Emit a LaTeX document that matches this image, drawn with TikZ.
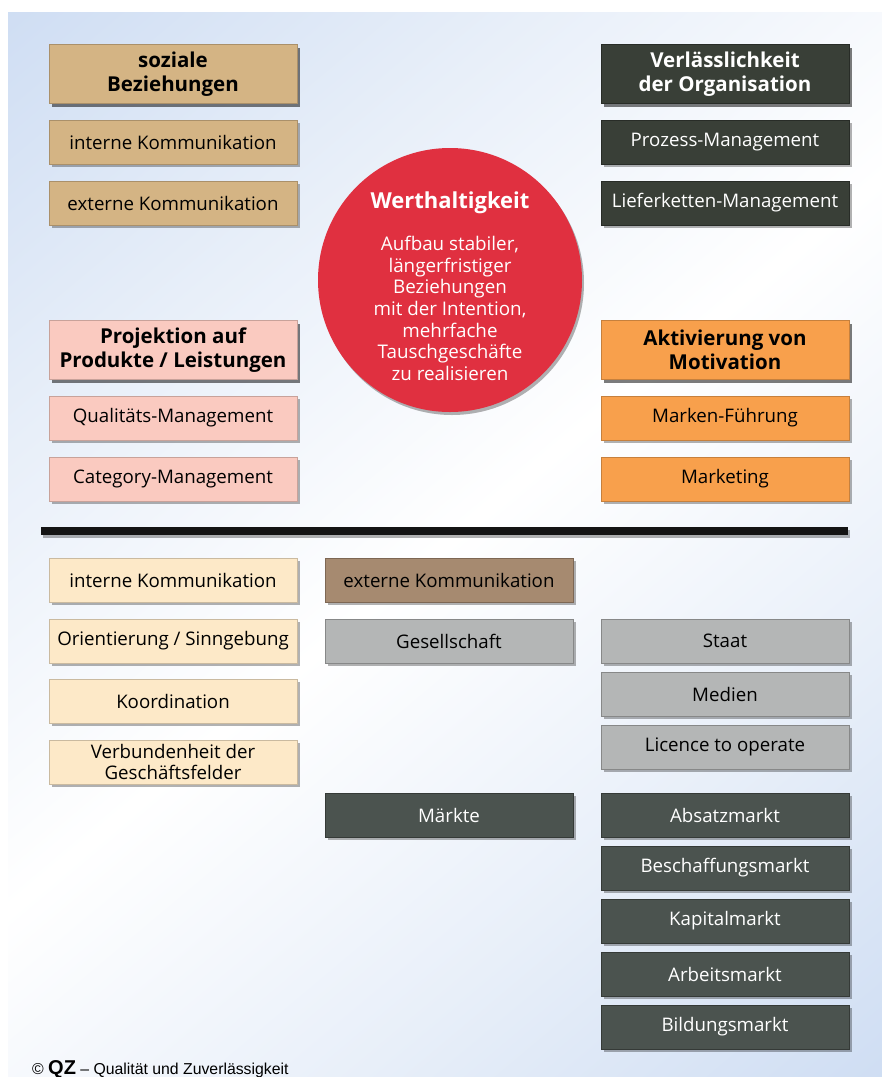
\documentclass[tikz,border=0pt]{standalone}
\usepackage{fontspec}
\setmainfont{Open Sans}
\newfontfamily\footfont{Liberation Sans}
\usetikzlibrary{positioning, shadows}

\definecolor{bgblue}{RGB}{186,207,238}
\definecolor{bgpale}{RGB}{232,239,249}
\definecolor{tanbg}{RGB}{212,180,132}
\definecolor{darkbg}{RGB}{57,63,55}
\definecolor{slatebg}{RGB}{75,83,79}
\definecolor{pinkbg}{RGB}{250,202,192}
\definecolor{orangebg}{RGB}{248,160,76}
\definecolor{creambg}{RGB}{253,233,200}
\definecolor{brownbg}{RGB}{166,138,112}
\definecolor{greybg}{RGB}{180,182,182}
\definecolor{redbg}{RGB}{224,48,64}

\pgfdeclareverticalshading{panelshade}{100bp}{color(0bp)=(bgblue); color(32bp)=(bgpale); color(50bp)=(white); color(68bp)=(bgpale); color(100bp)=(bgblue)}

\tikzset{
    box/.style={rectangle, minimum width=248pt, minimum height=44pt, inner sep=0pt,
        align=center, font=\fontsize{18.7}{21}\selectfont,
        drop shadow={shadow xshift=2.5pt, shadow yshift=-3pt, opacity=0.3, fill=black}},
    head/.style={box, minimum height=59pt, font=\fontsize{20.5}{24}\selectfont\bfseries},
    tanbox/.style={fill=tanbg, draw=tanbg!80!black, line width=0.6pt},
    darkbox/.style={fill=darkbg, draw=darkbg!70!black, line width=0.6pt, text=white},
    slatebox/.style={fill=slatebg, draw=slatebg!70!black, line width=0.6pt, text=white},
    pinkbox/.style={fill=pinkbg, draw=pinkbg!80!black, line width=0.6pt},
    orangebox/.style={fill=orangebg, draw=orangebg!80!black, line width=0.6pt},
    creambox/.style={fill=creambg, draw=creambg!80!black, line width=0.6pt},
    brownbox/.style={fill=brownbg, draw=brownbg!75!black, line width=0.6pt},
    greybox/.style={fill=greybg, draw=greybg!75!black, line width=0.6pt}
}

\begin{document}
\begin{tikzpicture}[x=1pt, y=1pt]
        \useasboundingbox (0,0) rectangle (882,-1077);
        \fill[white] (0,0) rectangle (882,-1077);
        \shade[shading=panelshade, shading angle=40] (8,-12) rectangle (882,-1077);

        \node[box, head, tanbox] (sozial) at (173,-74) {soziale\\Beziehungen};
        \node[box, tanbox] (intkomm) at (173,-142) {interne Kommunikation};
        \node[box, tanbox] (extkomm) at (173,-203) {externe Kommunikation};

        \node[box, head, darkbox] (verlass) at (725,-74) {Verlässlichkeit\\der Organisation};
        \node[box, darkbox] (prozess) at (725,-142) {Prozess-Management};
        \node[box, darkbox] (liefer) at (725,-203) {Lieferketten-Management};

        \node[box, head, pinkbox] (projektion) at (173,-350) {Projektion auf\\Produkte / Leistungen};
        \node[box, pinkbox] (quali) at (173,-418) {Qualitäts-Management};
        \node[box, pinkbox] (category) at (173,-479) {Category-Management};

        \node[box, head, orangebox] (aktiv) at (725,-350) {Aktivierung von\\Motivation};
        \node[box, orangebox] (marken) at (725,-418) {Marken-Führung};
        \node[box, orangebox] (marketing) at (725,-479) {Marketing};

        \node[circle, fill=redbg, minimum size=264pt, inner sep=0pt,
            drop shadow={shadow xshift=2pt, shadow yshift=-3pt, opacity=0.3, fill=black}] (wert) at (450,-280) {};
        \node[text=white, align=center, inner sep=0pt, font=\fontsize{18.8}{21.6}\selectfont] (wertinfo)
            at ([yshift=-6pt]wert.center)
            {{\fontsize{22}{24}\selectfont\bfseries Werthaltigkeit}\\[21pt]
             Aufbau stabiler,\\längerfristiger\\Beziehungen\\mit der Intention,\\mehrfache\\Tauschgeschäfte\\zu realisieren};

        \node[rectangle, fill=black!92, minimum width=807pt, minimum height=8pt, inner sep=0pt,
            drop shadow={shadow xshift=2pt, shadow yshift=-3pt, opacity=0.3, fill=black}] (trenner) at (444.5,-531) {};

        \node[box, creambox] (intkomm2) at (173,-580) {interne Kommunikation};
        \node[box, creambox] (orient) at (173,-641) {Orientierung / Sinngebung};
        \node[box, creambox] (koord) at (173,-701) {Koordination};
        \node[box, creambox] (verbund) at (173,-762) {Verbundenheit der\\Geschäftsfelder};

        \node[box, brownbox] (extkomm2) at (449,-580) {externe Kommunikation};
        \node[box, greybox] (gesell) at (449,-641) {Gesellschaft};
        \node[box, slatebox] (maerkte) at (449,-815) {Märkte};

        \node[box, greybox] (staat) at (725,-641) {Staat};
        \node[box, greybox] (medien) at (725,-694) {Medien};
        \node[box, greybox] (licence) at (725,-747) {Licence to operate};
        \node[box, slatebox] (absatz) at (725,-815) {Absatzmarkt};
        \node[box, slatebox] (beschaff) at (725,-868) {Beschaffungsmarkt};
        \node[box, slatebox] (kapital) at (725,-921) {Kapitalmarkt};
        \node[box, slatebox] (arbeit) at (725,-974) {Arbeitsmarkt};
        \node[box, slatebox] (bildung) at (725,-1027) {Bildungsmarkt};

        \node[anchor=base west, inner sep=0pt, font=\footfont\fontsize{15.8}{18}\selectfont] (quelle) at (32,-1074)
            {© {\fontsize{20}{18}\selectfont\bfseries QZ} – Qualität und Zuverlässigkeit};
    \end{tikzpicture}
\end{document}
